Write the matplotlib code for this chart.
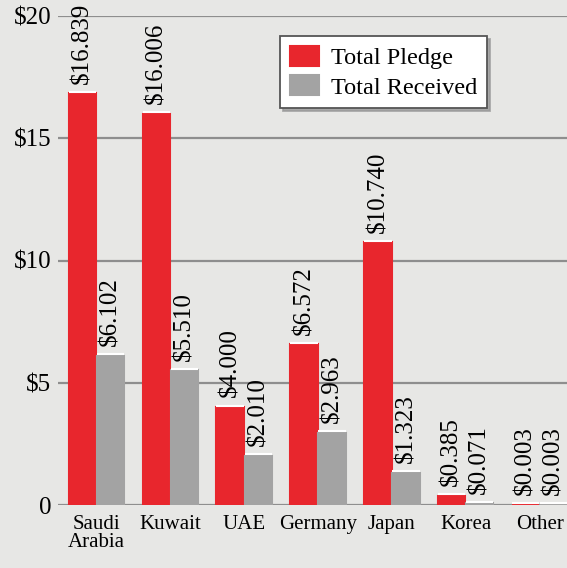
import matplotlib
matplotlib.use("Agg")
import matplotlib.pyplot as plt
import numpy as np

categories = ["Saudi\nArabia", "Kuwait", "UAE", "Germany", "Japan", "Korea", "Other"]
pledge = [16.839, 16.006, 4.000, 6.572, 10.740, 0.385, 0.003]
received = [6.102, 5.510, 2.010, 2.963, 1.323, 0.071, 0.003]
pledge_labels = ["$16.839", "$16.006", "$4.000", "$6.572", "$10.740", "$0.385", "$0.003"]
received_labels = ["$6.102", "$5.510", "$2.010", "$2.963", "$1.323", "$0.071", "$0.003"]
yticks = [0, 5, 10, 15, 20]
ytick_labels = ["0", "$5", "$10", "$15", "$20"]

plt.rcParams['font.family'] = ['Liberation Serif', 'DejaVu Serif']

BG = "#e7e7e5"
RED = "#e8262d"
GREY = "#a3a3a3"

fig = plt.figure(figsize=(5.67, 5.68), dpi=100)
fig.patch.set_facecolor(BG)
ax = fig.add_axes([58/567, 1-505/568, 1-58/567, (505-16)/568])
ax.set_facecolor(BG)

x = np.arange(len(categories))
off = 0.19
w = 0.37
ax.set_xlim(-0.52, 6.37)
ax.set_ylim(0, 20)

for t in yticks:
    ax.axhline(t, color="#8e8e8e", lw=1.6, zorder=1)

ax.bar(x - off, pledge, w, color=RED, edgecolor=RED, linewidth=1.5, zorder=2, label="Total Pledge")
ax.bar(x + off, received, w, color=GREY, edgecolor=GREY, linewidth=1.5, zorder=2, label="Total Received")
# thin white highlight along bar tops
ax.hlines(np.array(pledge) + 0.06, x - off - w/2, x - off + w/2, color="white", lw=1.5, zorder=3)
ax.hlines(np.array(received) + 0.06, x + off - w/2, x + off + w/2, color="white", lw=1.5, zorder=3)

for xi, v, lab in zip(x - off, pledge, pledge_labels):
    ax.annotate(lab, (xi, v), xytext=(0, 7), textcoords="offset points",
                rotation=90, ha="center", va="bottom", fontsize=18, annotation_clip=False)
for xi, v, lab in zip(x + off, received, received_labels):
    ax.annotate(lab, (xi, v), xytext=(0, 7), textcoords="offset points",
                rotation=90, ha="center", va="bottom", fontsize=18, annotation_clip=False)

for s in ax.spines.values():
    s.set_visible(False)
ax.set_yticks(yticks)
ax.set_yticklabels(ytick_labels, fontsize=18)
ax.set_xticks(x)
ax.set_xticklabels(categories, fontsize=15, linespacing=0.95)
ax.tick_params(axis="both", length=0)
ax.tick_params(axis="y", pad=5)
ax.tick_params(axis="x", pad=7)

leg = ax.legend(loc="upper left", bbox_to_anchor=(280/567, 1-36/568), bbox_transform=fig.transFigure,
                borderaxespad=0, fontsize=17.5, fancybox=False, framealpha=1, edgecolor="#555555",
                handlelength=1.2, handleheight=0.9, handletextpad=0.5, labelspacing=0.25,
                borderpad=0.4, shadow={'color': '#999999', 'alpha': 0.8})
leg.get_frame().set_linewidth(1.3)

fig.savefig("out.png", dpi=100, facecolor=BG)
